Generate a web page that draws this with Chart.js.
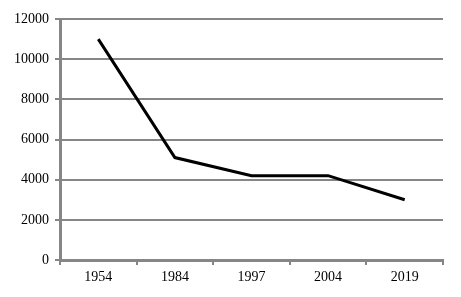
<!DOCTYPE html>
<html>
<head>
<meta charset="utf-8">
<script src="https://cdn.jsdelivr.net/npm/chart.js@4"></script>
<style>
  html, body { margin: 0; padding: 0; background: #fff; }
  #wrap { width: 461px; height: 297px; }
</style>
</head>
<body>
<div id="wrap"><canvas id="myChart"></canvas></div>
<script>
// jaartallen op de x-as
let years = ['1954', '1984', '1997', '2004', '2019'];
// waarden van de lijn
let values = [11000, 5100, 4200, 4200, 3000];
// labels van de y-as
let yTicks = [0, 2000, 4000, 6000, 8000, 10000, 12000];

let ctx = document.getElementById('myChart').getContext('2d');
let gray = '#868686';
let font = { family: '"Liberation Serif", "DejaVu Serif", serif', size: 14 };

let chart = new Chart(ctx, {
  type: 'line',
  data: {
    labels: years,
    datasets: [{
      data: values,
      borderColor: '#000',
      borderWidth: 3,
      pointRadius: 0,
      tension: 0,
      fill: false
    }]
  },
  options: {
    responsive: true,
    maintainAspectRatio: false,
    animation: false,
    layout: { padding: { top: 19, right: 18, left: 0, bottom: 0 } },
    plugins: { legend: { display: false }, tooltip: { enabled: false } },
    scales: {
      x: {
        offset: true,
        grid: { offset: true, drawOnChartArea: false, drawTicks: true, tickLength: 5, color: gray, lineWidth: 2 },
        border: { color: gray, width: 3 },
        ticks: { color: '#000', font: font, padding: 4, maxRotation: 0 },
        afterFit: function (scale) { scale.height = 37; }
      },
      y: {
        min: 0,
        max: 12000,
        afterBuildTicks: function (scale) {
          scale.ticks = yTicks.map(v => ({ value: v }));
        },
        grid: { color: gray, lineWidth: 2, tickLength: 5 },
        border: { color: gray, width: 3 },
        // geen duizendtalscheiding, zoals in het origineel
        ticks: { color: '#000', font: font, padding: 6, callback: v => String(v) },
        afterFit: function (scale) { scale.width = 60; }
      }
    }
  }
});
</script>
</body>
</html>
